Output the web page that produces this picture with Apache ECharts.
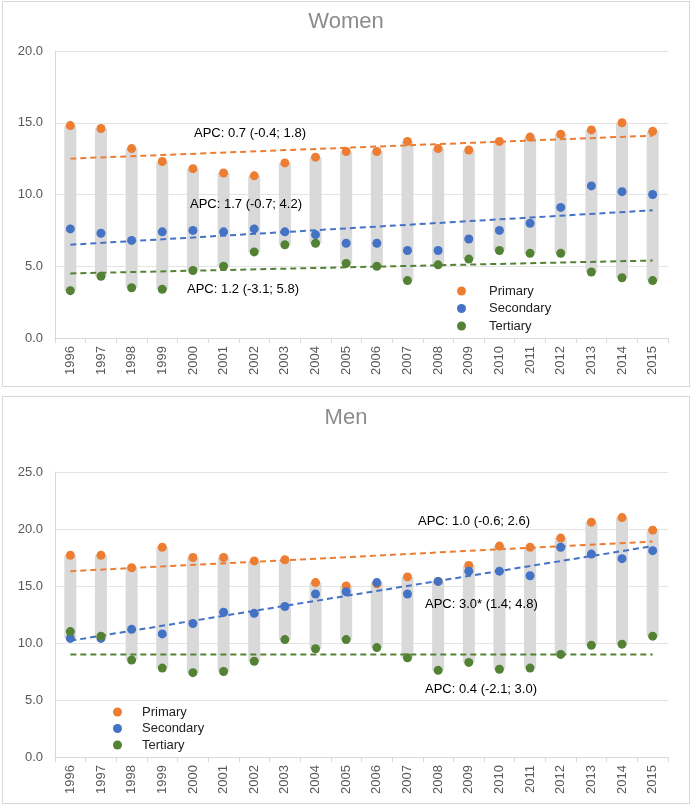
<!DOCTYPE html>
<html>
<head>
<meta charset="utf-8">
<script src="https://cdn.jsdelivr.net/npm/echarts@6/dist/echarts.min.js"></script>
<style>
  body { margin: 0; background: #fff; }
  .panel { position: absolute; left: 2px; width: 686px; border: 1px solid #d9d9d9; background: #fff; }
</style>
</head>
<body>
<div id="women" class="panel" style="top: 1px; height: 384px;"></div>
<div id="men" class="panel" style="top: 396px; height: 406px;"></div>
<script>
const years = ['1996', '1997', '1998', '1999', '2000', '2001', '2002', '2003', '2004', '2005',
  '2006', '2007', '2008', '2009', '2010', '2011', '2012', '2013', '2014', '2015']

// Women
const womenPrimary = [14.8, 14.6, 13.2, 12.3, 11.8, 11.5, 11.3, 12.2, 12.6, 13.0,
  13.0, 13.7, 13.2, 13.1, 13.7, 14.0, 14.2, 14.5, 15.0, 14.4]
const womenSecondary = [7.6, 7.3, 6.8, 7.4, 7.5, 7.4, 7.6, 7.4, 7.2, 6.6,
  6.6, 6.1, 6.1, 6.9, 7.5, 8.0, 9.1, 10.6, 10.2, 10.0]
const womenTertiary = [3.3, 4.3, 3.5, 3.4, 4.7, 5.0, 6.0, 6.5, 6.6, 5.2,
  5.0, 4.0, 5.1, 5.5, 6.1, 5.9, 5.9, 4.6, 4.2, 4.0]
const womenTrendPrimary = [12.5, 14.1]
const womenTrendSecondary = [6.5, 8.9]
const womenTrendTertiary = [4.5, 5.4]
const womenApc = ['APC: 0.7 (-0.4; 1.8)', 'APC: 1.7 (-0.7; 4.2)', 'APC: 1.2 (-3.1; 5.8)']

// Men
const menPrimary = [17.7, 17.7, 16.6, 18.4, 17.5, 17.5, 17.2, 17.3, 15.3, 15.0,
  15.2, 15.8, 15.4, 16.8, 18.5, 18.4, 19.2, 20.6, 21.0, 19.9]
const menSecondary = [10.4, 10.4, 11.2, 10.8, 11.7, 12.7, 12.6, 13.2, 14.3, 14.5,
  15.3, 14.3, 15.4, 16.3, 16.3, 15.9, 18.4, 17.8, 17.4, 18.1]
const menTertiary = [11.0, 10.6, 8.5, 7.8, 7.4, 7.5, 8.4, 10.3, 9.5, 10.3,
  9.6, 8.7, 7.6, 8.3, 7.7, 7.8, 9.0, 9.8, 9.9, 10.6]
const menTrendPrimary = [16.3, 18.9]
const menTrendSecondary = [10.2, 18.5]
const menTrendTertiary = [9.0, 9.0]
const menApc = ['APC: 1.0 (-0.6; 2.6)', 'APC: 3.0* (1.4; 4.8)', 'APC: 0.4 (-2.1; 3.0)']

const colors = ['#ED7D31', '#4472C4', '#548235']
const names = ['Primary', 'Secondary', 'Tertiary']
const textFont = "'Liberation Sans', sans-serif"

const buildOption = (cfg) => {
  const groups = [cfg.primary, cfg.secondary, cfg.tertiary]
  const lows = years.map((y, i) => Math.min(...groups.map(g => g[i])))
  const ranges = years.map((y, i) => Math.max(...groups.map(g => g[i])) - lows[i])
  const trends = [cfg.trendPrimary, cfg.trendSecondary, cfg.trendTertiary]

  const series = [
    {
      type: 'bar', stack: 'range', data: lows, barWidth: 12, silent: true,
      itemStyle: { color: 'transparent' }
    },
    {
      type: 'bar', stack: 'range', data: ranges, barWidth: 12, silent: true,
      itemStyle: { color: '#D9D9D9' }
    }
  ]
  trends.forEach((t, k) => {
    series.push({
      type: 'line',
      data: [[years[0], t[0]], [years[years.length - 1], t[1]]],
      symbol: 'none',
      silent: true,
      z: 3,
      lineStyle: { color: colors[k], width: 2, type: [6, 4] }
    })
  })
  groups.forEach((g, k) => {
    series.push({
      name: names[k],
      type: 'scatter',
      data: g,
      symbol: 'circle',
      symbolSize: 9,
      z: 4 + k,
      itemStyle: { color: colors[k], opacity: 1 }
    })
  })

  return {
    animation: false,
    title: {
      text: cfg.title,
      left: 'center',
      top: cfg.titleTop,
      textStyle: { color: '#8C8C8C', fontSize: 22, fontWeight: 'normal', fontFamily: textFont }
    },
    grid: cfg.grid,
    legend: {
      data: names,
      orient: 'vertical',
      left: cfg.legend.left,
      top: cfg.legend.top,
      itemWidth: 9,
      itemHeight: 9,
      itemGap: cfg.legend.gap,
      icon: 'circle',
      textStyle: {
        color: '#222', fontSize: 13, fontFamily: textFont, lineHeight: 14,
        padding: [0, 0, 0, cfg.legend.pad]
      }
    },
    xAxis: {
      type: 'category',
      data: years,
      axisLine: { lineStyle: { color: '#D9D9D9' } },
      axisTick: { show: true, length: 5, lineStyle: { color: '#D9D9D9' } },
      axisLabel: { rotate: 90, color: '#595959', fontSize: 13, margin: 8 }
    },
    yAxis: {
      type: 'value',
      min: 0,
      max: cfg.max,
      interval: 5,
      axisLine: { show: true, lineStyle: { color: '#D9D9D9' } },
      axisTick: { show: false },
      splitLine: { lineStyle: { color: '#E4E4E4' } },
      axisLabel: {
        color: '#595959', fontSize: 13, margin: 12,
        formatter: v => v.toFixed(1)
      }
    },
    graphic: cfg.apc.map((a, k) => ({
      type: 'text',
      left: a.x,
      top: a.y,
      z: 100,
      style: { text: cfg.apcText[k], fill: '#000', font: '13px ' + textFont }
    })),
    series
  }
}

const womenChart = echarts.init(document.getElementById('women'))
womenChart.setOption(buildOption({
  title: 'Women',
  titleTop: 4,
  primary: womenPrimary,
  secondary: womenSecondary,
  tertiary: womenTertiary,
  trendPrimary: womenTrendPrimary,
  trendSecondary: womenTrendSecondary,
  trendTertiary: womenTrendTertiary,
  apcText: womenApc,
  max: 20,
  grid: { left: 52, top: 49, width: 613, height: 287 },
  legend: { left: 449, top: 277, gap: 3.5, pad: 18 },
  apc: [{ x: 191, y: 125 }, { x: 187, y: 196 }, { x: 184, y: 281 }]
}))

const menChart = echarts.init(document.getElementById('men'))
menChart.setOption(buildOption({
  title: 'Men',
  titleTop: 5,
  primary: menPrimary,
  secondary: menSecondary,
  tertiary: menTertiary,
  trendPrimary: menTrendPrimary,
  trendSecondary: menTrendSecondary,
  trendTertiary: menTrendTertiary,
  apcText: menApc,
  max: 25,
  grid: { left: 52, top: 75, width: 613, height: 285 },
  legend: { left: 105, top: 303, gap: 2.5, pad: 15 },
  apc: [{ x: 415, y: 118 }, { x: 422, y: 201 }, { x: 422, y: 286 }]
}))

window.addEventListener('resize', () => {
  womenChart.resize()
  menChart.resize()
})
</script>
</body>
</html>
